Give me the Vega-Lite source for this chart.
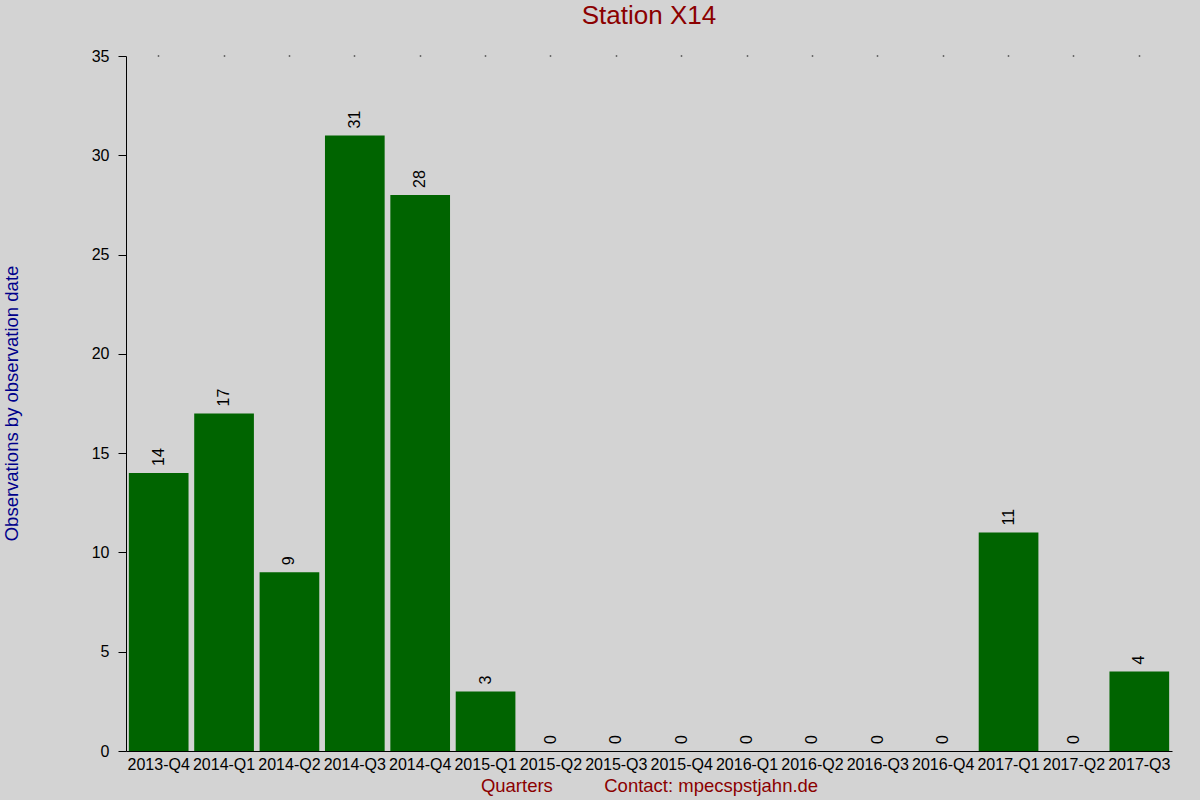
{
  "$schema": "https://vega.github.io/schema/vega-lite/v6.json",
  "autosize": "none",
  "width": 1046,
  "height": 695,
  "padding": {"left": 126, "top": 56, "right": 28, "bottom": 49},
  "background": "#d3d3d3",
  "config": {
    "view": {"stroke": null},
    "font": "Liberation Sans",
    "axis": {"grid": false, "domainColor": "#000000", "tickColor": "#000000", "labelColor": "#000000", "labelFont": "Liberation Sans", "titleFont": "Liberation Sans", "titleFontWeight": "normal"}
  },
  "title": {
    "text": "Station X14",
    "font": "Liberation Sans",
    "fontSize": 26,
    "fontWeight": "normal",
    "color": "#8b0000",
    "anchor": "middle",
    "offset": 19
  },
  "data": {
    "values": [
      {"quarter": "2013-Q4", "count": 14},
      {"quarter": "2014-Q1", "count": 17},
      {"quarter": "2014-Q2", "count": 9},
      {"quarter": "2014-Q3", "count": 31},
      {"quarter": "2014-Q4", "count": 28},
      {"quarter": "2015-Q1", "count": 3},
      {"quarter": "2015-Q2", "count": 0},
      {"quarter": "2015-Q3", "count": 0},
      {"quarter": "2015-Q4", "count": 0},
      {"quarter": "2016-Q1", "count": 0},
      {"quarter": "2016-Q2", "count": 0},
      {"quarter": "2016-Q3", "count": 0},
      {"quarter": "2016-Q4", "count": 0},
      {"quarter": "2017-Q1", "count": 11},
      {"quarter": "2017-Q2", "count": 0},
      {"quarter": "2017-Q3", "count": 4}
    ]
  },
  "layer": [
    {
      "mark": {"type": "bar", "color": "#006400"},
      "encoding": {
        "x": {
          "field": "quarter",
          "type": "ordinal",
          "sort": null,
          "scale": {"paddingInner": 0.087, "paddingOuter": 0.0435},
          "axis": {
            "orient": "bottom",
            "title": "Quarters\u00a0\u00a0\u00a0\u00a0\u00a0\u00a0\u00a0\u00a0\u00a0\u00a0Contact: mpecspstjahn.de",
            "titleColor": "#8b0000",
            "titleFontSize": 18.5,
            "titlePadding": 4,
            "labelAngle": 0,
            "labelFontSize": 16,
            "labelPadding": 5,
            "ticks": false
          }
        },
        "y": {
          "field": "count",
          "type": "quantitative",
          "scale": {"domain": [0, 35], "nice": false},
          "axis": {
            "values": [0, 5, 10, 15, 20, 25, 30, 35],
            "title": "Observations by observation date",
            "titleColor": "#00008b",
            "titleFontSize": 18.5,
            "titleAngle": 270,
            "titleAlign": "center",
            "titleBaseline": "middle",
            "titleX": -115,
            "titleY": 347,
            "labelFontSize": 16,
            "labelPadding": 9,
            "tickSize": 8
          }
        }
      }
    },
    {
      "mark": {"type": "text", "angle": 270, "align": "left", "baseline": "middle", "dx": 7, "fontSize": 16, "color": "#000000"},
      "encoding": {
        "x": {
          "field": "quarter",
          "type": "ordinal",
          "sort": null,
          "axis": {"orient": "top", "title": null, "labels": false, "domain": false, "ticks": true, "tickSize": 1, "tickWidth": 1.5}
        },
        "y": {"field": "count", "type": "quantitative"},
        "text": {"field": "count", "type": "quantitative"}
      }
    }
  ],
  "resolve": {"axis": {"x": "independent"}}
}
